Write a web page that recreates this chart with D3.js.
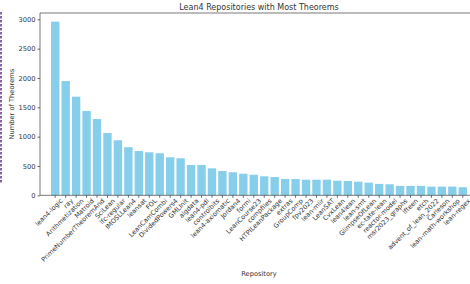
<!DOCTYPE html>
<html lang="en">
  <head>
    <meta charset="utf-8">
    <title>Lean4 Repositories with Most Theorems</title>
    <script src="https://cdn.jsdelivr.net/npm/d3@7"></script>
    <style>
      body { margin: 0; background: #fff; }
      text { font-family: "DejaVu Sans", sans-serif; fill: #333; }
    </style>
  </head>
  <body>
    <script>

      var repos = ["lean4-logic", "ray", "Arithmetization", "Matroid", "PrimeNumberTheoremAnd",
        "SciLean", "lfc-regular", "IMOSLLean4", "leansat", "FOL", "LeanCamCombi", "DividedPowers4",
        "GMLInit", "algdata", "lean4-pdl", "controlbits", "lean4-axiomatic", "Jordan4", "formi",
        "LeanCourse23", "compfiles", "HTPILeanPackage", "extras", "GroupComp", "fpv2023", "lean-mlir",
        "LeanSAT", "CvxLean", "lean4lean", "lean-smt", "GlimpseOfLean", "ec-tate-lean", "reactor-model",
        "msr2023_graphs", "lfteen", "etch", "advent_of_lean_2022", "Carleson", "lean-math-workshop", "lean-regex"];

      var theorems = [2960, 1948, 1681, 1437, 1300, 1062, 938, 820, 755, 733, 716, 648,
        631, 516, 516, 460, 414, 392, 368, 351, 324, 312, 278, 278, 266, 266,
        266, 249, 244, 232, 216, 194, 188, 160, 160, 160, 148, 148, 148, 137];

      var yTicks = [0, 500, 1000, 1500, 2000, 2500, 3000];

      var svg = d3.select("body").append("svg")
                  .attr("width", 470)
                  .attr("height", 284);

      // axes box runs a bit past the right edge, like the cropped original
      var plotL = 40, plotR = 478, plotT = 13, plotB = 195.3;

      var x = d3.scaleBand()
                .domain(repos)
                .range([plotL + 10, plotR - 10])
                .paddingInner(0.2)
                .paddingOuter(0.1);

      var y = d3.scaleLinear()
                .domain([0, 3000])
                .range([plotB, 19.3]);

      // clipped purple marks at the left edge
      svg.append("line")
         .attr("x1", 1).attr("x2", 1)
         .attr("y1", 12).attr("y2", 183)
         .style("stroke", "#6b3d9a")
         .style("stroke-width", 2)
         .style("stroke-dasharray", "2.5,1.5")
         .style("opacity", 0.8);

      svg.selectAll("rect.bar")
         .data(theorems)
         .enter().append("rect")
         .attr("class", "bar")
         .attr("x", function(d, i) { return x(repos[i]); })
         .attr("y", function(d) { return y(d); })
         .attr("width", x.bandwidth())
         .attr("height", function(d) { return plotB - y(d); })
         .style("fill", "#87ceeb");

      // spines
      svg.append("path")
         .attr("d", "M" + plotL + "," + plotB + "V" + plotT + "H" + plotR)
         .style("fill", "none")
         .style("stroke", "#555")
         .style("stroke-width", 0.8);
      svg.append("line")
         .attr("x1", plotL).attr("x2", plotR)
         .attr("y1", plotB).attr("y2", plotB)
         .style("stroke", "#555")
         .style("stroke-width", 0.8);

      var yAxis = svg.append("g")
         .attr("transform", "translate(" + plotL + ",0)")
         .call(d3.axisLeft(y).tickValues(yTicks).tickFormat(d3.format("d")).tickSize(2.5).tickPadding(2));
      yAxis.select(".domain").remove();
      yAxis.selectAll("line").style("stroke", "#444").style("stroke-width", 0.8);
      yAxis.selectAll("text").style("font-size", "6.7px").style("fill", "#333");

      var xAxis = svg.append("g")
         .attr("transform", "translate(0," + plotB + ")")
         .call(d3.axisBottom(x).tickSize(2.5).tickPadding(2));
      xAxis.select(".domain").remove();
      xAxis.selectAll("line").style("stroke", "#444").style("stroke-width", 0.8);
      xAxis.selectAll("text")
           .style("font-size", "6.5px")
           .style("fill", "#333")
           .attr("text-anchor", "end")
           .attr("dy", "0.6em")
           .attr("transform", "translate(2,0) rotate(-45)");

      svg.append("text")
         .attr("x", (plotL + plotR) / 2)
         .attr("y", 10)
         .attr("text-anchor", "middle")
         .style("font-size", "8px")
         .text("Lean4 Repositories with Most Theorems");

      svg.append("text")
         .attr("x", (plotL + plotR) / 2)
         .attr("y", 276)
         .attr("text-anchor", "middle")
         .style("font-size", "6.7px")
         .text("Repository");

      svg.append("text")
         .attr("transform", "translate(14," + ((plotT + plotB) / 2) + ") rotate(-90)")
         .attr("text-anchor", "middle")
         .style("font-size", "6.7px")
         .text("Number of Theorems");

    </script>
  </body>
</html>
